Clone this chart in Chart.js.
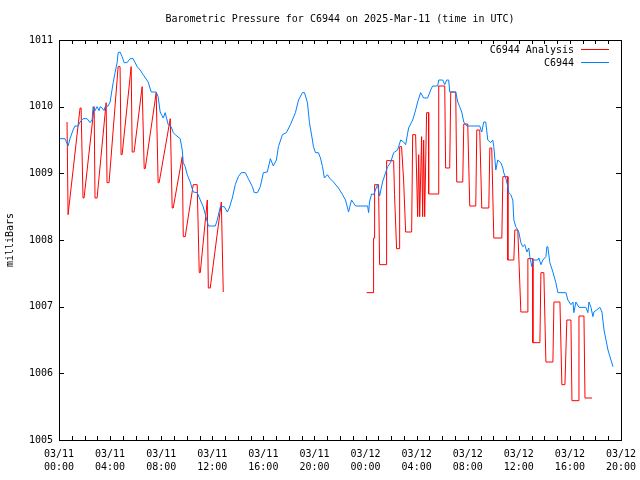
<!DOCTYPE html>
<html><head><meta charset="utf-8">
<script src="https://cdn.jsdelivr.net/npm/chart.js@4/dist/chart.umd.min.js"></script>
<style>html,body{margin:0;padding:0;background:#fff}canvas{display:block}</style>
</head><body>
<canvas id="c" width="640" height="480"></canvas>
<script>
const chartTitle = 'Barometric Pressure for C6944 on 2025-Mar-11 (time in UTC)';
const yAxisTitle = 'milliBars';
const seriesNames = ['C6944 Analysis', 'C6944'];
const tickDates = ['03/11','03/11','03/11','03/11','03/11','03/11','03/12','03/12','03/12','03/12','03/12','03/12'];
const tickTimes = ['00:00','04:00','08:00','12:00','16:00','20:00','00:00','04:00','08:00','12:00','16:00','20:00'];

// hours since 03/11 00:00 UTC
const blueHours = [0.08,0.47,0.71,0.86,1.10,1.25,1.49,1.65,1.88,2.20,2.43,2.59,2.67,2.82,2.98,3.14,3.22,3.37,3.53,3.61,3.84,4.00,4.24,4.39,4.55,4.63,4.78,4.94,5.10,5.33,5.57,5.80,6.12,6.35,6.59,6.98,7.22,7.61,7.76,7.92,8.16,8.31,8.55,8.78,8.94,9.10,9.49,9.65,9.73,9.88,10.04,10.27,10.51,10.82,11.06,11.29,11.53,11.69,12.24,12.39,12.63,12.94,13.18,13.33,13.57,13.80,14.04,14.27,14.59,14.82,15.14,15.29,15.53,15.76,16.00,16.31,16.55,16.78,17.02,17.18,17.49,17.80,18.12,18.51,18.75,19.06,19.22,19.45,19.61,19.84,19.92,20.08,20.31,20.47,20.63,20.78,21.02,21.18,21.49,21.88,22.20,22.43,22.67,22.90,23.22,24.16,24.24,24.31,24.47,24.63,24.94,25.10,25.33,25.57,25.73,25.96,26.20,26.51,26.75,26.98,27.14,27.37,27.69,27.92,28.08,28.31,28.55,28.86,29.10,29.25,29.65,29.73,30.04,30.20,30.35,30.51,30.59,31.06,31.22,31.37,31.53,31.69,31.92,32.94,33.10,33.25,33.41,33.57,33.80,33.96,34.04,34.20,34.35,34.59,34.75,34.82,34.98,35.14,35.22,35.37,35.53,35.61,35.76,36.00,36.16,36.31,36.47,36.63,36.78,36.86,37.02,37.10,37.49,37.57,37.73,37.88,38.12,38.20,38.27,38.43,38.67,38.90,39.06,39.69,39.84,40.08,40.24,40.31,40.47,40.71,41.25,41.41,41.49,41.65,41.80,41.88,42.35,42.51,42.67,42.98,43.37];
const blueValues = [1009.52,1009.52,1009.41,1009.52,1009.65,1009.71,1009.71,1009.77,1009.82,1009.82,1009.76,1009.80,1010.00,1009.94,1010.00,1009.94,1010.00,1009.98,1009.94,1010.00,1010.01,1010.07,1010.36,1010.51,1010.66,1010.81,1010.82,1010.75,1010.66,1010.66,1010.72,1010.72,1010.60,1010.55,1010.48,1010.37,1010.22,1010.22,1010.15,1009.92,1009.83,1009.91,1009.73,1009.70,1009.61,1009.58,1009.52,1009.35,1009.16,1009.10,1008.98,1008.87,1008.72,1008.71,1008.60,1008.50,1008.33,1008.21,1008.21,1008.30,1008.50,1008.50,1008.42,1008.48,1008.63,1008.83,1008.95,1009.01,1009.01,1008.92,1008.80,1008.71,1008.71,1008.80,1009.01,1009.02,1009.22,1009.11,1009.20,1009.40,1009.58,1009.61,1009.73,1009.91,1010.10,1010.21,1010.21,1010.06,1009.76,1009.50,1009.40,1009.31,1009.31,1009.23,1009.10,1008.93,1008.98,1008.93,1008.87,1008.78,1008.68,1008.60,1008.42,1008.60,1008.51,1008.51,1008.41,1008.57,1008.69,1008.68,1008.83,1008.66,1008.87,1009.01,1009.10,1009.16,1009.31,1009.35,1009.50,1009.47,1009.43,1009.68,1009.80,1009.95,1010.07,1010.21,1010.13,1010.13,1010.25,1010.31,1010.31,1010.40,1010.40,1010.33,1010.40,1010.40,1010.22,1010.22,1010.07,1010.00,1009.92,1009.77,1009.71,1009.71,1009.62,1009.77,1009.77,1009.50,1009.46,1009.50,1009.40,1009.05,1009.20,1009.16,1009.08,1009.01,1008.93,1008.80,1008.71,1008.68,1008.60,1008.30,1008.20,1008.12,1007.96,1007.90,1007.93,1007.82,1007.88,1007.75,1007.60,1007.70,1007.70,1007.73,1007.63,1007.70,1007.75,1007.90,1007.90,1007.66,1007.52,1007.36,1007.21,1007.21,1007.10,1007.03,1007.07,1006.91,1007.07,1006.99,1006.99,1006.91,1007.07,1006.99,1006.85,1006.92,1006.99,1006.92,1006.65,1006.35,1006.10];

const redHours = [0.63,0.71,0.78,1.65,1.73,1.88,1.96,2.75,2.82,2.98,3.69,3.76,3.92,4.63,4.78,4.86,4.94,5.65,5.73,5.88,6.51,6.67,6.75,7.61,7.76,7.84,8.71,8.86,8.94,9.65,9.73,9.88,10.51,10.82,10.98,11.06,11.61,11.69,11.84,12.71,12.86,
  18.00,
  24.08,24.63,24.63,24.71,24.71,25.02,25.10,25.65,25.65,26.20,26.27,26.43,26.67,26.67,26.82,26.98,27.14,27.61,27.69,27.92,28.08,28.16,28.24,28.39,28.47,28.55,28.63,28.78,28.94,28.94,29.73,29.73,30.20,30.27,30.59,30.67,31.06,31.14,31.61,31.69,32.00,32.16,32.63,32.71,32.94,33.10,33.65,33.73,33.88,34.04,34.67,34.75,35.14,35.14,35.61,35.69,35.92,36.16,36.71,36.71,37.10,37.10,37.65,37.73,37.96,38.12,38.67,38.75,39.22,39.37,39.61,39.76,40.08,40.16,40.71,40.71,41.10,41.18,41.73];
const redValues = [1009.77,1008.38,1008.38,1009.98,1009.98,1008.63,1008.63,1010.00,1008.63,1008.63,1010.06,1008.86,1008.86,1010.60,1010.60,1009.28,1009.28,1010.60,1009.32,1009.32,1010.30,1009.07,1009.07,1010.21,1008.86,1008.86,1009.82,1008.48,1008.48,1009.25,1008.05,1008.05,1008.83,1008.83,1007.51,1007.51,1008.60,1007.28,1007.28,1008.57,1007.22,
  null,
  1007.21,1007.21,1008.03,1008.03,1008.83,1008.83,1007.63,1007.63,1009.19,1009.19,1008.68,1007.87,1007.87,1009.40,1009.40,1008.90,1008.12,1008.12,1009.58,1009.58,1008.35,1009.28,1008.35,1009.55,1008.35,1009.50,1008.35,1009.91,1009.91,1008.69,1008.69,1010.31,1010.31,1009.08,1009.08,1010.22,1010.22,1008.87,1008.87,1009.74,1009.74,1008.51,1008.51,1009.65,1009.65,1008.48,1008.48,1009.38,1009.38,1008.03,1008.03,1008.95,1008.95,1007.70,1007.70,1008.15,1008.15,1006.92,1006.92,1007.72,1007.72,1006.46,1006.46,1007.51,1007.51,1006.17,1006.17,1007.07,1007.07,1005.83,1005.83,1006.80,1006.80,1005.59,1005.59,1006.86,1006.86,1005.63,1005.63];

const FONT = "'DejaVu Sans Mono', monospace";
const RED = '#ff0000';
const BLUE = '#0080ff';

const redPoints = redHours.map((h, i) => ({x: h, y: redValues[i]}));
const bluePoints = blueHours.map((h, i) => ({x: h, y: blueValues[i]}));

const framePlugin = {
  id: 'gnuFrame',
  afterDatasetsDraw(chart) {
    const {ctx, chartArea: a, scales: {x, y}} = chart;
    ctx.save();
    ctx.strokeStyle = '#000';
    ctx.lineWidth = 1;
    ctx.beginPath();
    y.ticks.forEach(t => {
      const py = Math.round(y.getPixelForValue(t.value)) + 0.5;
      ctx.moveTo(a.left, py); ctx.lineTo(a.left + 5, py);
      ctx.moveTo(a.right, py); ctx.lineTo(a.right - 5, py);
    });
    for (let h = x.min; h <= x.max; h += 1) {
      const px = Math.round(x.getPixelForValue(h)) + 0.5;
      ctx.moveTo(px, a.bottom); ctx.lineTo(px, a.bottom - 4);
      ctx.moveTo(px, a.top); ctx.lineTo(px, a.top + 4);
    }
    ctx.stroke();
    ctx.strokeRect(Math.round(a.left) + 0.5, Math.round(a.top) + 0.5,
                   Math.round(a.right - a.left), Math.round(a.bottom - a.top));
    ctx.font = '10px ' + FONT;
    ctx.fillStyle = '#000';
    // title, centred over the plot area
    ctx.textAlign = 'center';
    ctx.textBaseline = 'middle';
    ctx.fillText(chartTitle, (a.left + a.right) / 2, a.top - 21);
    // key
    ctx.textAlign = 'right';
    const colors = [RED, BLUE];
    seriesNames.forEach((name, i) => {
      const ty = a.top + 10 + i * 13;
      ctx.fillText(name, a.right - 47, ty);
      ctx.strokeStyle = colors[i];
      ctx.beginPath();
      ctx.moveTo(a.right - 40, Math.round(ty) - 0.5);
      ctx.lineTo(a.right - 12, Math.round(ty) - 0.5);
      ctx.stroke();
    });
    ctx.restore();
  }
};

new Chart(document.getElementById('c'), {
  type: 'line',
  data: {
    datasets: [
      {label: seriesNames[0], data: redPoints, borderColor: RED, borderWidth: 1, pointRadius: 0, tension: 0, spanGaps: false, order: 1},
      {label: seriesNames[1], data: bluePoints, borderColor: BLUE, borderWidth: 1, pointRadius: 0, tension: 0, order: 0}
    ]
  },
  options: {
    responsive: false,
    animation: false,
    devicePixelRatio: 1,
    parsing: false,
    layout: {padding: {left: 0, right: 19, top: 40, bottom: 0}},
    plugins: {
      legend: {display: false},
      tooltip: {enabled: false},
      title: {display: false}
    },
    scales: {
      x: {
        type: 'linear', min: 0, max: 44,
        grid: {display: false, drawTicks: false},
        border: {display: false},
        ticks: {
          stepSize: 4, autoSkip: false, maxRotation: 0, minRotation: 0, padding: 8,
          color: '#000', font: {family: FONT, size: 10, lineHeight: 1.3},
          callback: (v) => { const i = Math.round(v / 4); return [tickDates[i], tickTimes[i]]; }
        },
        afterFit(s) { s.height = 40; s.paddingLeft = 0; s.paddingRight = 0; }
      },
      y: {
        type: 'linear', min: 1005, max: 1011,
        grid: {display: false, drawTicks: false},
        border: {display: false},
        ticks: {stepSize: 1, padding: 6, color: '#000', font: {family: FONT, size: 10}, callback: (v) => String(v)},
        title: {display: true, text: yAxisTitle, color: '#000', font: {family: FONT, size: 10, lineHeight: 1.2}, padding: {top: 4, bottom: 0}},
        afterFit(s) { s.width = 59; s.paddingTop = 0; s.paddingBottom = 0; }
      }
    }
  },
  plugins: [framePlugin]
});
</script>
</body></html>
